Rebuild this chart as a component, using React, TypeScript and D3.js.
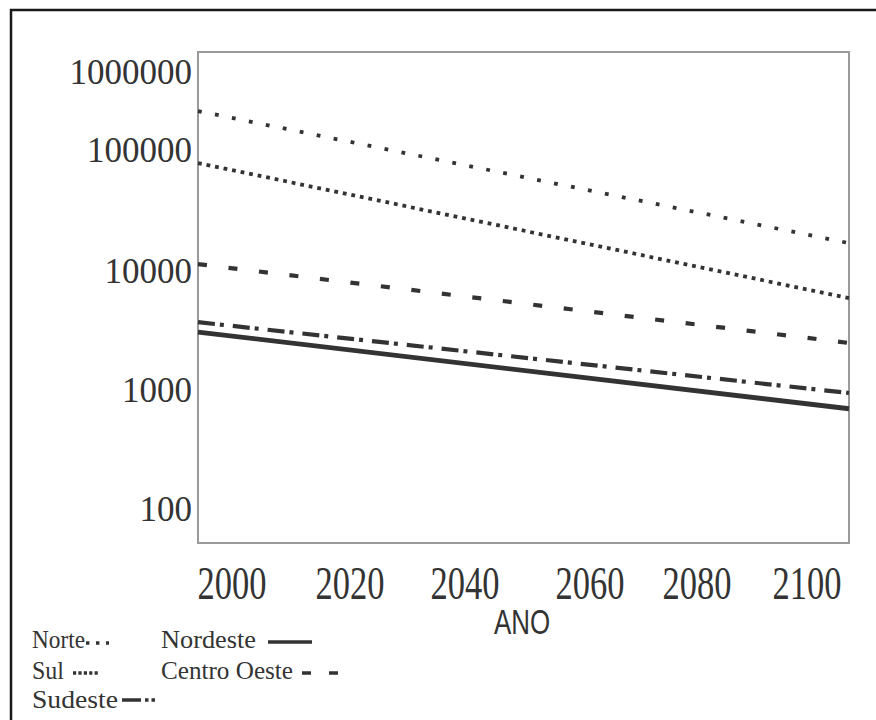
import React from "react";
import * as d3 from "d3";

// ---- data ----
const regions = ["Norte", "Sul", "Centro Oeste", "Sudeste", "Nordeste"];
const spanYears = [1994, 2108];
const norteValues = [316000, 17000];
const sulValues = [78000, 5900];
const centroOesteValues = [11400, 2470];
const sudesteValues = [3700, 935];
const nordesteValues = [3050, 690];
const xTickYears = [2000, 2020, 2040, 2060, 2080, 2100];
const yTickValues = [100, 1000, 10000, 100000, 1000000];
const xTitle = "ANO";

const valuesByRegion: Record<string, number[]> = {
  Norte: norteValues,
  Sul: sulValues,
  "Centro Oeste": centroOesteValues,
  Sudeste: sudesteValues,
  Nordeste: nordesteValues,
};

const INK = "#333";

const lineStyle: Record<string, { w: number; dash: string | null }> = {
  Norte: { w: 3.8, dash: "3.8 13.5" },
  Sul: { w: 3.8, dash: "3.8 4.9" },
  "Centro Oeste": { w: 4.2, dash: "9 21.7" },
  Sudeste: { w: 4.2, dash: "17 5 4 9" },
  Nordeste: { w: 4.8, dash: null },
};

export default function App() {
  const W = 876,
    H = 720;
  const plot = { x0: 198, y0: 52, x1: 849, y1: 543 };

  // the reference axes are hand-spaced: piecewise scales follow the drawn ticks
  const x = d3
    .scaleLinear()
    .domain([spanYears[0], ...xTickYears, spanYears[1]])
    .range([plot.x0, 232, 350, 465, 590, 697, 807, plot.x1]);
  const y = d3
    .scaleLog()
    .domain(yTickValues)
    .range([509, 389.5, 271, 150, 72]);

  const line = d3
    .line<{ year: number; v: number }>()
    .x((d) => x(d.year))
    .y((d) => y(d.v));

  const legendItems = [
    { name: "Norte", tx: 32, ty: 648, tw: 53, sx: 86, sx2: 109, sy: 643, dash: "3.4 6.6" },
    { name: "Nordeste", tx: 161, ty: 648, tw: 95, sx: 268, sx2: 312, sy: 642, dash: null },
    { name: "Sul", tx: 32, ty: 679, tw: 32, sx: 73, sx2: 98, sy: 673, dash: "3.2 2.2" },
    { name: "Centro Oeste", tx: 161, ty: 679, tw: 132, sx: 302, sx2: 338, sy: 673, dash: "9 18" },
    { name: "Sudeste", tx: 32, ty: 708, tw: 86, sx: 122, sx2: 168, sy: 700, dash: "19 4 3.5 3 3.5 20" },
  ];

  return (
    <svg
      width={W}
      height={H}
      style={{ position: "absolute", left: 0, top: 0, background: "#fff" }}
    >
      <rect x={0} y={0} width={W} height={H} fill="#fff" />
      {/* outer border (clipped on right and bottom in the reference) */}
      <rect x={11} y={10} width={W + 20} height={H + 20} fill="none" stroke="#1a1a1a" strokeWidth={2.5} />

      {/* plot frame */}
      <rect
        x={plot.x0}
        y={plot.y0}
        width={plot.x1 - plot.x0}
        height={plot.y1 - plot.y0}
        fill="none"
        stroke="#9a9a9a"
        strokeWidth={2}
      />

      {/* series */}
      {regions.map((r) => {
        const vals = valuesByRegion[r];
        const pts = spanYears.map((yr, i) => ({ year: yr, v: vals[i] }));
        const st = lineStyle[r];
        return (
          <path
            key={r}
            d={line(pts) || ""}
            fill="none"
            stroke={INK}
            strokeWidth={st.w}
            strokeDasharray={st.dash || undefined}
            strokeLinecap="butt"
          />
        );
      })}

      {/* y tick labels */}
      {yTickValues.map((v) => (
        <text
          key={v}
          x={192}
          y={y(v) + 12}
          textAnchor="end"
          fontFamily="'Liberation Serif', 'Times New Roman', serif"
          fontSize={35}
          fill={INK}
        >
          {v}
        </text>
      ))}

      {/* x tick labels (condensed in the reference) */}
      {xTickYears.map((yr) => (
        <text
          key={yr}
          transform={`translate(${x(yr)},599) scale(0.75,1)`}
          textAnchor="middle"
          fontFamily="'Liberation Serif', 'Times New Roman', serif"
          fontSize={46}
          fill={INK}
        >
          {yr}
        </text>
      ))}

      {/* x title */}
      <text
        transform="translate(522,634) scale(0.72,1)"
        textAnchor="middle"
        fontFamily="'Liberation Sans', Arial, sans-serif"
        fontSize={36}
        fill={INK}
      >
        {xTitle}
      </text>

      {/* legend */}
      {legendItems.map((it) => (
        <g key={it.name}>
          <text
            x={it.tx}
            y={it.ty}
            textLength={it.tw}
            lengthAdjust="spacingAndGlyphs"
            fontFamily="'Liberation Serif', 'Times New Roman', serif"
            fontSize={25}
            fill={INK}
          >
            {it.name}
          </text>
          <line
            x1={it.sx}
            x2={it.sx2}
            y1={it.sy}
            y2={it.sy}
            stroke={INK}
            strokeWidth={3.4}
            strokeDasharray={it.dash || undefined}
          />
        </g>
      ))}
    </svg>
  );
}
